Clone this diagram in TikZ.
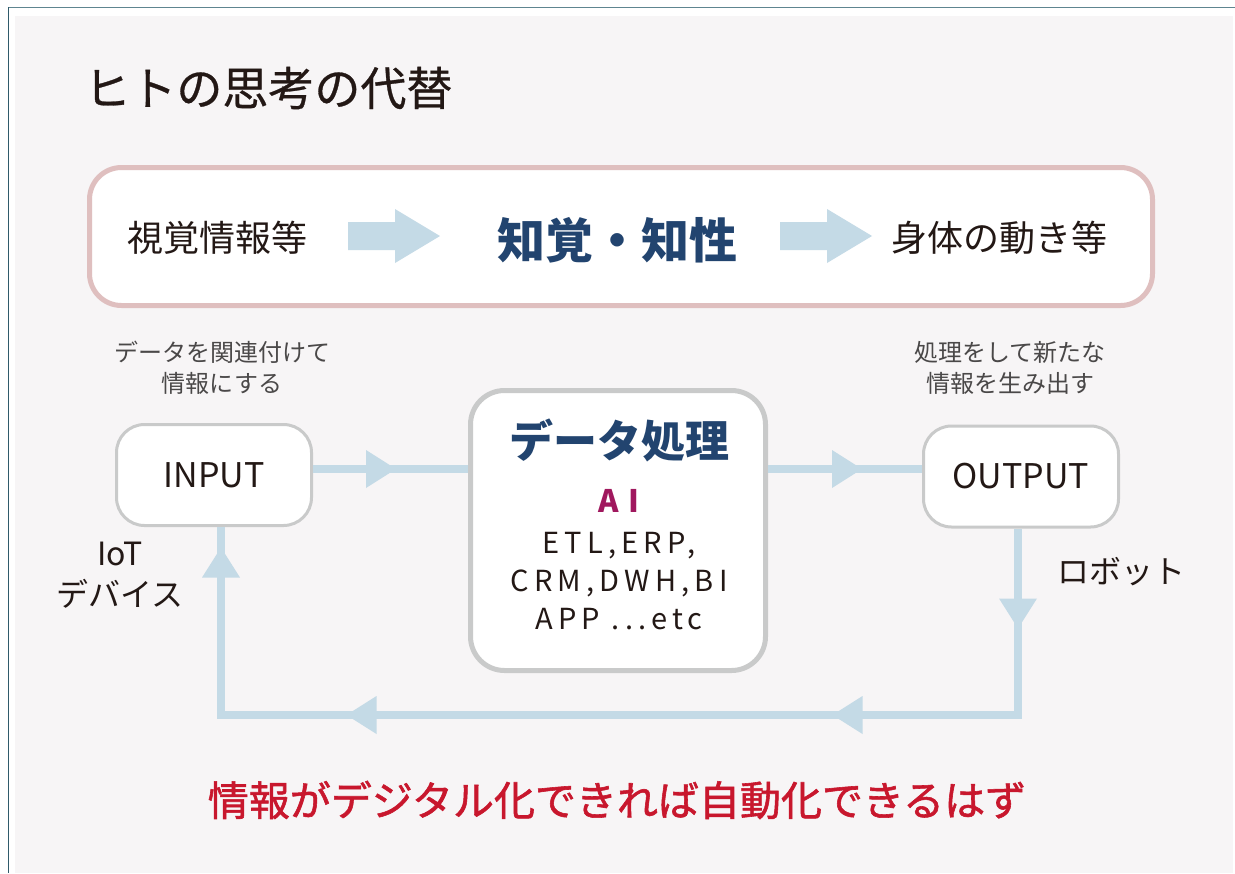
\documentclass[tikz,border=0pt]{standalone}
\usepackage{fontspec}
\setmainfont{Noto Sans CJK JP}
\usetikzlibrary{arrows.meta,decorations.markings}
\definecolor{ink}{HTML}{231815}
\definecolor{navy}{HTML}{22446F}
\definecolor{magen}{HTML}{A0185E}
\definecolor{redtxt}{HTML}{C8172D}
\definecolor{graytxt}{HTML}{4A4848}
\definecolor{pinkline}{HTML}{DFBFBF}
\definecolor{grayline}{HTML}{C9CACA}
\definecolor{flowc}{HTML}{C4DAE6}
\definecolor{bgc}{HTML}{F7F5F6}
\definecolor{tealtop}{HTML}{5E8590}
\definecolor{tealleft}{HTML}{2F5A6A}
\newcommand{\myfs}[2]{\fontsize{#1}{#2}\selectfont}
\tikzset{
  boxbase/.style={draw=grayline, fill=white, inner sep=0pt},
  topbox/.style={draw=pinkline, fill=white, line width=2.5pt, rounded corners=16pt, inner sep=0pt},
  smallbox/.style={boxbase, line width=1.5pt, rounded corners=14pt, minimum width=97.5pt, minimum height=50.5pt, font={\myfs{17pt}{20pt}}, text=ink},
  procbox/.style={boxbase, line width=2.5pt, rounded corners=17pt},
  txt/.style={inner sep=0pt, text=ink},
  note/.style={inner sep=0pt, text=graytxt, align=center, font={\myfs{12pt}{15.5pt}}},
  flow/.style={draw=flowc, color=flowc, line width=4pt},
  tipat/.style={postaction={decorate, decoration={markings, mark=at position #1 with {\arrow{Triangle[length=15pt,width=19pt,line width=0pt]}}}}},
  blockarrow/.pic={\fill[flowc] (0,-14) -- (47,-14) -- (47,-27) -- (92,0) -- (47,27) -- (47,14) -- (0,14) -- cycle;}
}
\begin{document}
\begin{tikzpicture}[x=0.5pt,y=-0.5pt]
\useasboundingbox (0,0) rectangle (1235,873);
\fill[white] (0,0) rectangle (1235,873);
\fill[bgc] (15,16) rectangle (1233,873);
\draw[tealtop, line width=0.8pt] (8,7.5) -- (1235,7.5);
\draw[tealleft, line width=0.8pt] (8.5,7) -- (8.5,873);

% title
\node[txt, anchor=west, font={\myfs{23pt}{27pt}\addfontfeature{FakeBold=0.6}}] (title) at (84,88) {ヒトの思考の代替};

% top box
\node[topbox, minimum width=531.5pt, minimum height=69pt] (top) at (621,236.5) {};
\node[txt, font={\myfs{18pt}{22pt}}] (see) at (217,238) {視覚情報等};
\node[txt, text=navy, font={\myfs{24pt}{28pt}\bfseries}] (know) at (617,240) {知覚・知性};
\node[txt, font={\myfs{18pt}{22pt}}] (body) at (999,238) {身体の動き等};
\pic at (348,236) {blockarrow};
\pic at (780,236) {blockarrow};

% notes
\node[note] (n1) at (222,367.5) {データを関連付けて\\情報にする};
\node[note] (n2) at (1010,367.5) {処理をして新たな\\情報を生み出す};

% boxes
\node[smallbox] (input) at (214,475) {INPUT};
\node[smallbox] (output) at (1021,476.5) {OUTPUT};
\node[procbox, minimum width=147.5pt, minimum height=140pt] (proc) at (618,530.5) {};
\node[txt, text=navy, font={\myfs{22pt}{26pt}\bfseries}] (ptitle) at (619,440) {データ処理};
\node[txt, text=magen, font={\myfs{15.5pt}{18pt}\bfseries\addfontfeature{LetterSpace=30}}] (ai) at (619,501) {AI};
\node[txt, align=center, font={\myfs{14.5pt}{19pt}\addfontfeature{LetterSpace=18}}] (apps) at (619,581) {ETL,ERP,\\CRM,DWH,BI\\APP ...etc};

% side labels
\node[txt, align=center, font={\myfs{16pt}{20.5pt}}] (iot) at (120,575) {IoT\\デバイス};
\node[txt, font={\myfs{16pt}{20pt}}] (robot) at (1121,572) {ロボット};

% connectors
\coordinate (inA) at ([yshift=3pt]input.east);
\coordinate (outA) at ([yshift=3.75pt]output.west);
\draw[flow, tipat=41.5pt] (inA) -- (inA -| proc.west);
\draw[flow, tipat=47pt] (outA -| proc.east) -- (outA);
\coordinate (br) at (1018,715);
\coordinate (bl) at (221,715);
\draw[flow, tipat=50pt, tipat=186pt, tipat=429pt, tipat=575.5pt] (output.south -| br) -- (br) -- (bl) -- (bl |- input.south);

% conclusion
\node[txt, text=redtxt, font={\myfs{20.5pt}{24pt}\addfontfeature{FakeBold=1.4}}] (concl) at (617,800) {情報がデジタル化できれば自動化できるはず};
\end{tikzpicture}
\end{document}
